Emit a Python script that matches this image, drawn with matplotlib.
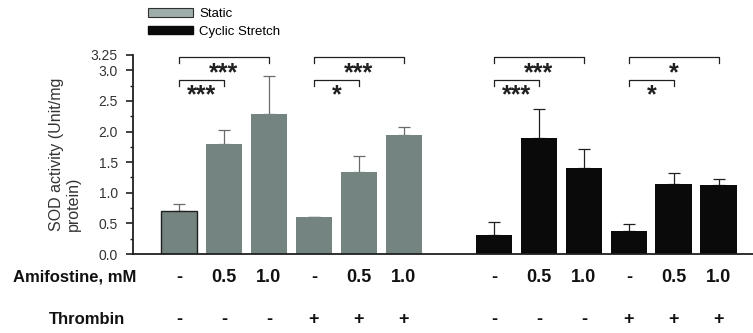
import matplotlib.pyplot as plt
from matplotlib.patches import Patch

plt.rcParams['font.family'] = ['Liberation Sans', 'DejaVu Sans']

# waarden
static_vals = [0.71, 1.80, 2.28, 0.60, 1.34, 1.94]
static_err = [0.11, 0.23, 0.63, 0.01, 0.26, 0.14]
stretch_vals = [0.31, 1.89, 1.41, 0.38, 1.14, 1.12]
stretch_err = [0.21, 0.47, 0.31, 0.11, 0.19, 0.11]

amifostine = ['-', '0.5', '1.0', '-', '0.5', '1.0']
thrombin = ['-', '-', '-', '+', '+', '+']

static_pos = [0, 1, 2, 3, 4, 5]
stretch_pos = [7, 8, 9, 10, 11, 12]

# significantie-haken: (links, rechts, hoogte, sterren)
brackets = [
    (0, 2, 3.21, '***'), (0, 1, 2.84, '***'),
    (3, 5, 3.21, '***'), (3, 4, 2.84, '*'),
    (7, 9, 3.21, '***'), (7, 8, 2.84, '***'),
    (10, 12, 3.21, '*'), (10, 11, 2.84, '*'),
]

static_col = '#748581'
fig = plt.figure(figsize=(7.53, 3.33), dpi=100)
ax = fig.add_axes([133 / 753, 1 - 254 / 333, 1 - 133 / 753, 199 / 333])

w = 0.815
bars = ax.bar(static_pos, static_vals, width=w, color=static_col, zorder=2)
bars[0].set_edgecolor('#202020')
bars[0].set_linewidth(1.0)
ax.errorbar(static_pos, static_vals, yerr=[[0] * 6, static_err], fmt='none',
            ecolor='#6a6a6a', elinewidth=0.9, capsize=4, capthick=0.9, zorder=1)
ax.bar(stretch_pos, stretch_vals, width=w, color='#0a0a0a', zorder=2)
ax.errorbar(stretch_pos, stretch_vals, yerr=[[0] * 6, stretch_err], fmt='none',
            ecolor='#202020', elinewidth=0.9, capsize=4, capthick=0.9, zorder=1)

for a, b, h, s in brackets:
    ax.plot([a, a, b, b], [h - 0.09, h, h, h - 0.09], color='#202020', lw=0.9,
            clip_on=False)
    ax.text((a + b) / 2, h - 0.37, s, ha='center', va='baseline', fontsize=18,
            fontweight='bold', color='#202020')

ax.set_xlim(-1.022, 12.76)
ax.set_ylim(0, 3.25)
ax.set_yticks([0, 0.5, 1.0, 1.5, 2.0, 2.5, 3.0, 3.25])
ax.set_yticklabels(['0.0', '0.5', '1.0', '1.5', '2.0', '2.5', '3.0', '3.25'])
ax.set_yticks([0.25, 0.75, 1.25, 1.75, 2.25, 2.75], minor=True)
ax.tick_params(axis='y', which='major', length=5, width=1.2, pad=6,
               labelsize=10, color='#202020', labelcolor='#333333')
ax.tick_params(axis='y', which='minor', length=2.5, width=1.0, color='#202020')
ax.set_xticks([])
for sp in ['top', 'right']:
    ax.spines[sp].set_visible(False)
for sp in ['left', 'bottom']:
    ax.spines[sp].set_linewidth(1.3)
    ax.spines[sp].set_color('#202020')

fig.text(65 / 753, 1 - 154.5 / 333, 'SOD activity (Unit/mg\nprotein)',
         rotation=90, ha='center', va='center', multialignment='left',
         fontsize=11.5, color='#333333')

tr = ax.get_xaxis_transform()
all_pos = static_pos + stretch_pos
for i, p in enumerate(all_pos):
    ax.text(p, -0.1156, amifostine[i % 6], transform=tr, ha='center', va='center',
            fontsize=13, fontweight='bold', color='#111111')
    ax.text(p, -0.327, thrombin[i % 6], transform=tr, ha='center', va='center',
            fontsize=13, fontweight='bold', color='#111111')
fig.text(75 / 753, 1 - 277 / 333, 'Amifostine, mM', ha='center', va='center',
         fontsize=12, fontweight='bold', color='#111111')
fig.text(87 / 753, 1 - 319 / 333, 'Thrombin', ha='center', va='center',
         fontsize=12, fontweight='bold', color='#111111')

handles = [Patch(facecolor='#9eaeaa', edgecolor='#303030', linewidth=0.8),
           Patch(facecolor='#0a0a0a', edgecolor='#0a0a0a')]
fig.legend(handles, ['Static', 'Cyclic Stretch'], loc='upper left',
           bbox_to_anchor=(148 / 753, 1 - 8 / 333), frameon=False, fontsize=9.5,
           handlelength=3.4, handleheight=0.6, handletextpad=0.5,
           labelspacing=0.45, borderpad=0, borderaxespad=0)

fig.savefig('out.png', dpi=100)
